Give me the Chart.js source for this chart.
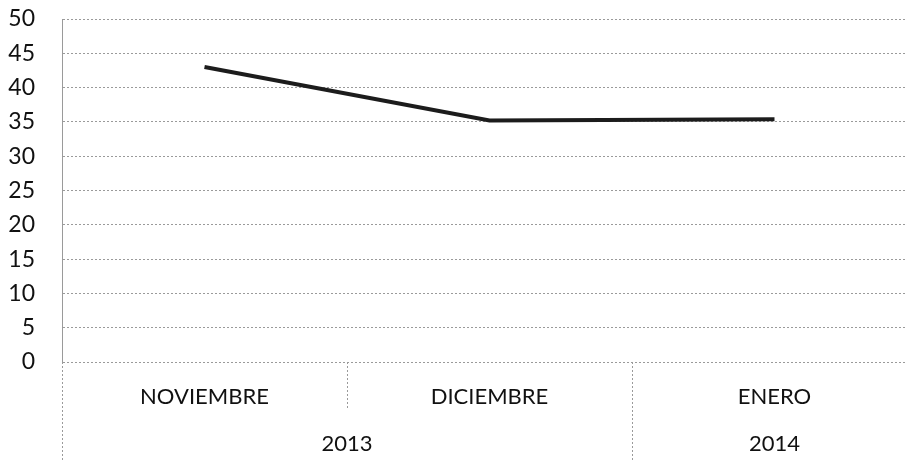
<!DOCTYPE html>
<html><head><meta charset="utf-8">
<script src="https://cdn.jsdelivr.net/npm/chart.js@4/dist/chart.umd.min.js"></script>
<style>html,body{margin:0;padding:0;background:#fff;overflow:hidden;width:906px;height:460px}
#wrap{width:920px;height:460px;position:relative}</style>
</head><body><div id="wrap"><canvas id="c" width="920" height="460"></canvas></div>
<script>
const categories = ['NOVIEMBRE', 'DICIEMBRE', 'ENERO'];
const years = ['2013', '2013', '2014'];
const values = [43.0, 35.2, 35.4];
const yTicks = [0, 5, 10, 15, 20, 25, 30, 35, 40, 45, 50];

const FONT = 'Lato, "Open Sans", sans-serif';
const gridColor = '#9a9a9a';

const groupAxis = {
  id: 'groupAxis',
  afterDraw(chart) {
    const ctx = chart.ctx, x = chart.scales.x, y = chart.scales.y;
    const top = y.getPixelForValue(0);
    const bottom = chart.height;
    const half = (x.getPixelForValue(1) - x.getPixelForValue(0)) / 2;
    ctx.save();
    ctx.strokeStyle = gridColor;
    ctx.lineWidth = 1;
    ctx.setLineDash([2, 2]);
    const lx = Math.round(chart.chartArea.left) + 0.5;
    ctx.beginPath(); ctx.moveTo(lx, top); ctx.lineTo(lx, bottom); ctx.stroke();
    for (let i = 1; i < categories.length; i++) {
      const bx = Math.round(x.getPixelForValue(i) - half) + 0.5;
      const newGroup = years[i] !== years[i - 1];
      ctx.beginPath(); ctx.moveTo(bx, top); ctx.lineTo(bx, newGroup ? bottom : top + 46); ctx.stroke();
    }
    ctx.setLineDash([]);
    ctx.fillStyle = '#111';
    ctx.font = '22px ' + FONT;
    ctx.textAlign = 'center';
    ctx.textBaseline = 'middle';
    let start = 0;
    for (let i = 1; i <= years.length; i++) {
      if (i === years.length || years[i] !== years[start]) {
        const x0 = x.getPixelForValue(start) - half;
        const x1 = x.getPixelForValue(i - 1) + half;
        ctx.fillText(years[start], (x0 + x1) / 2, 444);
        start = i;
      }
    }
    ctx.restore();
  }
};

new Chart(document.getElementById('c'), {
  type: 'line',
  data: {
    labels: categories,
    datasets: [{
      data: values,
      borderColor: '#1c1c1c',
      borderWidth: 4,
      pointRadius: 0,
      tension: 0,
      fill: false
    }]
  },
  options: {
    responsive: false,
    animation: false,
    layout: { padding: { top: 0, right: 3, left: 0, bottom: 0 } },
    plugins: { legend: { display: false }, tooltip: { enabled: false } },
    scales: {
      x: {
        type: 'category',
        offset: true,
        grid: { display: false, drawTicks: false },
        border: { display: false },
        ticks: { color: '#111', font: { family: FONT, size: 22 }, padding: 22, maxRotation: 0, autoSkip: false },
        afterFit(s) { s.height = 98; }
      },
      y: {
        min: 0, max: 50,
        afterBuildTicks(s) { s.ticks = yTicks.map(v => ({ value: v })); },
        grid: { color: gridColor, lineWidth: 1, drawTicks: false },
        border: { display: true, color: gridColor, dash: [2, 2] },
        ticks: { color: '#111', font: { family: FONT, size: 23 }, padding: 27 },
        afterFit(s) { s.width = 62; s.paddingTop = 19; s.paddingBottom = 0; }
      }
    }
  },
  plugins: [groupAxis, {
    id: 'dashGrid',
    beforeDraw(chart) {
      chart.scales.y.options.grid.borderDash = [2, 2];
    }
  }]
});
</script></body></html>
